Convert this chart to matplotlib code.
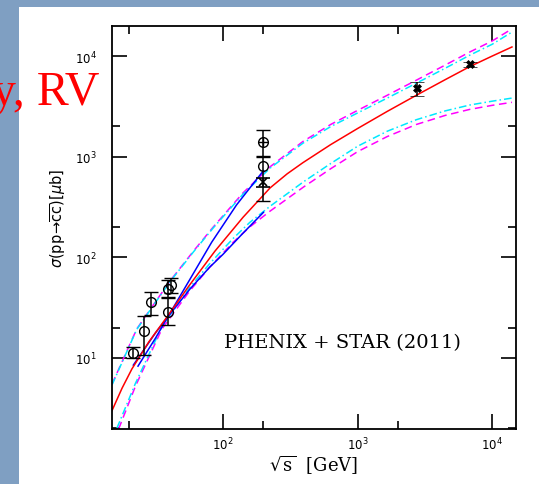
import matplotlib.pyplot as plt
import matplotlib.ticker as mticker
from matplotlib.patches import Rectangle

# --- data ---
# central curve (red)
red_s = [15, 17.8, 21.1, 28.2, 39, 56.2, 87.1, 141, 224, 300, 392, 631, 1000, 1660, 2730, 4470, 6810, 10000, 14000]
red_sig = [3.0, 5.0, 7.8, 14.5, 26.3, 52.5, 115, 250, 490, 676, 871, 1318, 1905, 2818, 4074, 5821, 7852, 10000, 12300]

# upper band
up_s = [15, 22.9, 31.6, 41.6, 60.3, 84.7, 141, 224, 392, 631, 1000, 1660, 2730, 4470, 6810, 10000, 14000]
up_mag_sig = [5.5, 19.4, 36.3, 61, 115, 200, 437, 794, 1413, 2089, 2884, 4074, 5754, 8128, 10965, 14125, 18620]
up_cyan_sig = [5.4, 19.2, 35.8, 60, 113, 196, 425, 770, 1360, 1990, 2720, 3820, 5370, 7560, 10200, 13100, 17300]

# lower band
lo_mag_s = [16.8, 22.4, 35.2, 56.2, 79.4, 119, 158, 224, 398, 631, 1000, 1660, 2730, 4470, 6810, 10000, 14000]
lo_mag_sig = [1.97, 5.25, 19.4, 45.7, 79.4, 141, 200, 288, 501, 759, 1122, 1585, 2089, 2570, 2951, 3236, 3467]
lo_cyan_s = [16.3, 22.4, 35.2, 56.2, 79.4, 119, 158, 224, 398, 631, 1000, 1660, 2730, 4470, 6810, 10000, 14000]
lo_cyan_sig = [2.0, 5.6, 20.5, 49.5, 86, 154, 222, 322, 565, 855, 1270, 1790, 2330, 2850, 3260, 3560, 3820]

# blue curves
blue1_s = [23.4, 31.6, 39.8, 56.2, 82.4, 126, 200]
blue1_sig = [8.3, 15.8, 26.9, 58.9, 141, 331, 727]
blue2_s = [21.6, 31.6, 41.7, 56.9, 79.4, 100, 141, 200]
blue2_sig = [8.5, 17.8, 28.8, 48.4, 79.4, 107, 174, 280]

# fixed target data
ft_s = [21.4, 25.9, 29.2, 39.2, 39.2, 40.8]
ft_sig = [11.2, 18.4, 36.2, 28.8, 48.4, 53]
ft_lo = [10.0, 10.7, 26.7, 21.3, 39.2, 44]
ft_hi = [12.9, 26.1, 44.9, 40.0, 60, 62]

# RHIC 200 GeV
star1_s, star1_sig, star1_lo, star1_hi = [200], [1400], [1007], [1855]
star2_s, star2_sig, star2_lo, star2_hi = [200], [800], [360], [1000]
phx_s, phx_sig, phx_lo, phx_hi = [200], [561], [500], [620]

# LHC
lhc_s = [2760, 6800]
lhc_sig = [4780, 8330]
lhc_lo = [4040, 7830]
lhc_hi = [5480, 8780]


def err(sig, lo, hi):
    return [[s - l for s, l in zip(sig, lo)], [h - s for s, h in zip(sig, hi)]]


fig = plt.figure(figsize=(5.39, 4.85), dpi=100)
fig.patch.set_facecolor('#7f9fc2')
fig.add_artist(Rectangle((19 / 539, 0), 1, 1 - 8 / 485, transform=fig.transFigure,
                         facecolor='white', edgecolor='none', zorder=0))

ax = fig.add_axes([112 / 539, 55 / 485, 404 / 539, 403 / 485])
ax.set_xscale('log')
ax.set_yscale('log')
ax.set_xlim(15, 15000)
ax.set_ylim(1.97, 19870)

lw = 1.1
ax.plot(up_s, up_mag_sig, color='#ff00ff', lw=lw, ls=(0, (5, 3)))
ax.plot(up_s, up_cyan_sig, color='#00e8ff', lw=lw, ls=(0, (5, 2, 1, 2)))
ax.plot(lo_mag_s, lo_mag_sig, color='#ff00ff', lw=lw, ls=(0, (5, 3)))
ax.plot(lo_cyan_s, lo_cyan_sig, color='#00e8ff', lw=lw, ls=(0, (5, 2, 1, 2)))
ax.plot(blue1_s, blue1_sig, color='#0000ff', lw=lw)
ax.plot(blue2_s, blue2_sig, color='#0000ff', lw=lw)
ax.plot(red_s, red_sig, color='#ff0000', lw=lw)

ekw = dict(color='black', ecolor='black', elinewidth=1.1, capsize=5, capthick=1.1,
           ls='none', zorder=5)
ax.errorbar(ft_s, ft_sig, yerr=err(ft_sig, ft_lo, ft_hi), marker='o', ms=7,
            mfc='none', mec='black', mew=1.0, **ekw)
ax.errorbar(star1_s, star1_sig, yerr=err(star1_sig, star1_lo, star1_hi), marker='o', ms=7,
            mfc='none', mec='black', mew=1.0, **ekw)
ax.plot(star1_s, star1_sig, marker='+', ms=7, color='black', mew=1.0, ls='none', zorder=6)
ax.errorbar(star2_s, star2_sig, yerr=err(star2_sig, star2_lo, star2_hi), marker='o', ms=7,
            mfc='none', mec='black', mew=1.0, **ekw)
ax.errorbar(phx_s, phx_sig, yerr=err(phx_sig, phx_lo, phx_hi), marker='x', ms=6,
            mec='black', mew=1.2, **ekw)
ax.errorbar(lhc_s, lhc_sig, yerr=err(lhc_sig, lhc_lo, lhc_hi), marker='X', ms=6,
            mfc='black', mec='black', mew=0.5, **ekw)

for sp in ax.spines.values():
    sp.set_linewidth(1.3)
for a in (ax.xaxis, ax.yaxis):
    a.set_major_locator(mticker.LogLocator(base=10, numticks=10))
    a.set_minor_locator(mticker.LogLocator(base=10, subs=[2.0], numticks=10))
    a.set_minor_formatter(mticker.NullFormatter())
ax.tick_params(which='both', direction='in', top=True, right=True, width=1.2)
ax.tick_params(which='major', length=11, labelsize=8.5)
ax.tick_params(which='minor', length=6)
ax.tick_params(axis='y', which='major', pad=11)
ax.tick_params(axis='x', which='major', pad=5)

ax.set_ylabel(r'$\sigma(\mathrm{pp}\!\rightarrow\!\overline{\mathrm{cc}})[\mu\mathrm{b}]$',
              fontsize=10.5)
ax.yaxis.set_label_coords(-0.11, 0.526)
ax.set_xlabel(r'$\sqrt{\mathrm{s}}$  [GeV]', fontsize=13, family='DejaVu Serif',
              math_fontfamily='dejavuserif')
ax.xaxis.set_label_coords(0.5, -0.058)
ax.text(0.57, 0.215, 'PHENIX + STAR (2011)', transform=ax.transAxes, ha='center',
        va='center', fontsize=14, family='DejaVu Serif')

fig.text(-8 / 539, 1 - 105 / 485, 'y, RV', color='#ff0000', fontsize=34.5,
         family='Liberation Serif', ha='left', va='baseline')

fig.savefig('out.png', dpi=100)
